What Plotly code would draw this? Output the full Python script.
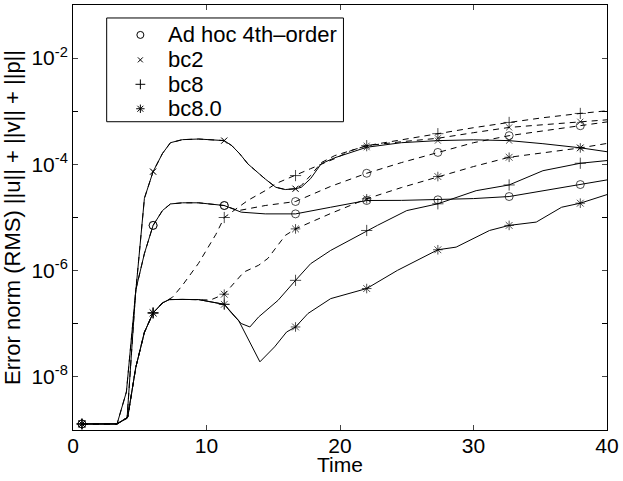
import plotly.graph_objects as go

# ---------------- data ----------------
MARKER_TIMES = [0.67, 6.0, 11.33, 16.67, 22.0, 27.33, 32.67, 38.0]

# Ad hoc 4th-order
T_ADHOC_SOLID = [0.67, 3.3, 4.05, 4.7, 5.35, 6.0, 6.7, 7.3, 8.2, 9.4, 11.33, 12.6, 14.4, 16.67,
                 19.3, 22.0, 24.6, 27.33, 30.0, 32.67, 35.2, 38.0, 40.0]
Y_ADHOC_SOLID = [1.3e-9, 1.3e-9, 1.66e-9, 4.3e-7, 2.1e-6, 7.1e-6, 1.35e-5, 1.8e-5, 1.89e-5, 1.89e-5,
                 1.68e-5, 1.26e-5, 1.17e-5, 1.17e-5, 1.56e-5, 2.09e-5, 2.1e-5, 2.15e-5, 2.27e-5,
                 2.48e-5, 3.2e-5, 4.17e-5, 5.1e-5]
T_ADHOC_DASH = [0.67, 3.3, 4.05, 4.7, 5.35, 6.0, 6.7, 7.3, 8.2, 9.4, 11.33, 12.4, 14.4, 16.67,
                19.3, 22.0, 24.6, 27.33, 30.0, 32.67, 35.2, 38.0, 40.0]
Y_ADHOC_DASH = [1.3e-9, 1.3e-9, 1.66e-9, 4.3e-7, 2.1e-6, 7.1e-6, 1.35e-5, 1.8e-5, 1.89e-5, 1.89e-5,
                1.68e-5, 1.35e-5, 1.68e-5, 2.0e-5, 3.85e-5, 6.8e-5, 1.08e-4, 1.68e-4, 2.56e-4,
                3.47e-4, 4.3e-4, 5.34e-4, 6.3e-4]

# bc2
T_BC2_SOLID = [0.67, 3.3, 4.0, 5.35, 6.0, 6.7, 7.3, 8.2, 9.4, 11.33, 11.9, 12.5, 13.1, 14.4, 15.2,
               15.9, 16.67, 17.1, 17.8, 18.6, 19.6, 20.8, 22.0, 24.6, 27.33, 30.0, 32.67, 35.2,
               38.0, 40.0]
Y_BC2_SOLID = [1.3e-9, 1.3e-9, 5.2e-9, 2.3e-5, 7.3e-5, 1.6e-4, 2.56e-4, 2.92e-4, 3.0e-4, 2.8e-4,
               2.25e-4, 1.57e-4, 1.02e-4, 5.3e-5, 3.7e-5, 3.36e-5, 3.48e-5, 3.7e-5, 5.4e-5, 1.03e-4,
               1.33e-4, 1.65e-4, 2.1e-4, 2.56e-4, 2.8e-4, 2.9e-4, 2.8e-4, 2.45e-4, 2.05e-4, 1.73e-4]
T_BC2_DASH = [0.67, 3.3, 4.0, 5.35, 6.0, 6.7, 7.3, 8.2, 9.4, 11.33, 11.9, 12.5, 13.1, 14.4, 15.2,
              15.9, 16.67, 17.1, 17.8, 18.6, 19.6, 20.8, 22.0, 24.6, 27.33, 30.0, 32.67, 35.2,
              38.0, 40.0]
Y_BC2_DASH = [1.3e-9, 1.3e-9, 5.2e-9, 2.3e-5, 7.3e-5, 1.6e-4, 2.56e-4, 2.92e-4, 3.0e-4, 2.8e-4,
              2.25e-4, 1.57e-4, 1.02e-4, 5.3e-5, 3.7e-5, 3.36e-5, 3.48e-5, 4.0e-5, 6.2e-5, 1.08e-4,
              1.46e-4, 1.81e-4, 2.25e-4, 2.67e-4, 3.1e-4, 3.95e-4, 4.96e-4, 5.57e-4, 6.35e-4, 6.9e-4]

# bc8
T_BC8_SOLID = [0.67, 3.3, 4.1, 4.7, 5.35, 6.0, 6.7, 7.2, 8.2, 9.4, 11.33, 11.9, 12.6, 13.25, 13.9,
               15.36, 16.67, 17.8, 19.3, 22.0, 22.8, 25.0, 27.33, 30.2, 32.67, 35.2, 38.0, 40.0]
Y_BC8_SOLID = [1.3e-9, 1.3e-9, 1.75e-9, 1.5e-8, 6.9e-8, 1.6e-7, 2.46e-7, 2.85e-7, 2.87e-7, 2.85e-7,
               2.32e-7, 1.56e-7, 1.01e-7, 8.7e-8, 1.34e-7, 2.76e-7, 6.56e-7, 1.35e-6, 2.4e-6,
               5.7e-6, 7.1e-6, 1.35e-5, 1.81e-5, 3.2e-5, 4.1e-5, 7.6e-5, 1.05e-4, 1.18e-4]
T_BC8_DASH = [0.67, 3.3, 4.1, 4.7, 5.35, 6.0, 6.7, 7.2, 7.45, 8.2, 9.4, 10.7, 11.33, 13.1, 14.4,
              15.2, 16.67, 17.8, 19.6, 20.8, 22.0, 24.6, 27.33, 30.0, 32.67, 35.2, 38.0, 40.0]
Y_BC8_DASH = [1.3e-9, 1.3e-9, 1.75e-9, 1.5e-8, 6.9e-8, 1.6e-7, 2.46e-7, 2.85e-7, 3.15e-7, 5.3e-7,
              1.37e-6, 4.8e-6, 1.0e-5, 2.1e-5, 3.2e-5, 4.35e-5, 6.15e-5, 8.3e-5, 1.28e-4, 1.81e-4,
              2.25e-4, 2.92e-4, 3.78e-4, 4.9e-4, 6.16e-4, 7.55e-4, 9.1e-4, 1.02e-3]

# bc8.0
T_BC80_SOLID = [0.67, 3.3, 4.1, 4.7, 5.35, 6.0, 6.7, 7.2, 8.2, 9.4, 11.33, 12.4, 14.0, 15.1, 16.0,
                16.67, 17.6, 19.3, 22.0, 24.3, 27.33, 28.7, 31.2, 32.67, 34.7, 36.6, 38.0, 40.0]
Y_BC80_SOLID = [1.3e-9, 1.3e-9, 1.75e-9, 1.5e-8, 6.9e-8, 1.6e-7, 2.46e-7, 2.85e-7, 2.87e-7, 2.85e-7,
                2.32e-7, 1.16e-7, 1.92e-8, 3.67e-8, 7.0e-8, 8.7e-8, 1.56e-7, 2.97e-7, 4.6e-7,
                1.01e-6, 2.47e-6, 2.77e-6, 5.7e-6, 7.1e-6, 8.2e-6, 1.56e-5, 1.86e-5, 2.7e-5]
T_BC80_DASH = [0.67, 3.3, 4.1, 4.7, 5.35, 6.0, 6.7, 7.2, 8.2, 9.4, 10.3, 11.33, 12.0, 12.8, 13.9,
               14.6, 15.9, 16.67, 19.3, 22.0, 24.6, 27.33, 30.0, 32.67, 35.2, 38.0, 40.0]
Y_BC80_DASH = [1.3e-9, 1.3e-9, 1.75e-9, 1.5e-8, 6.9e-8, 1.6e-7, 2.46e-7, 2.85e-7, 2.87e-7, 2.85e-7,
               2.8e-7, 3.6e-7, 5.7e-7, 9.4e-7, 1.26e-6, 1.7e-6, 4.6e-6, 6.1e-6, 1.19e-5, 2.25e-5,
               3.66e-5, 5.9e-5, 9.1e-5, 1.36e-4, 1.66e-4, 2.04e-4, 2.48e-4]

SERIES_NAMES = ["Ad hoc 4th\u2013order", "bc2", "bc8", "bc8.0"]

X_TICKS = [0, 10, 20, 30, 40]
Y_TICK_VALUES = [1e-8, 1e-6, 1e-4, 1e-2]
Y_TICK_TEXT = ["10<sup>-8</sup>", "10<sup>-6</sup>", "10<sup>-4</sup>", "10<sup>-2</sup>"]
Y_MINOR_TICK_VALUES = [1e-9, 1e-7, 1e-5, 1e-3, 1e-1]

# ---------------- styling / layout ----------------
W, H = 623, 481
ML, MR, MT, MB = 73, 11, 4, 51
PW, PH = W - ML - MR, H - MT - MB
FONT = "Liberation Sans, Arial, Helvetica, sans-serif"
SYMBOLS = {"Ad hoc 4th\u2013order": ("circle-open", 8),
           "bc2": ("x-thin-open", 6),
           "bc8": ("cross-thin-open", 8),
           "bc8.0": ("asterisk-open", 8)}

# legend placement in pixels (from top-left of the figure)
LEG_BOX = (107, 17, 346, 121)
LEG_SYMBOL_X = 141
LEG_TEXT_X = 167
LEG_ROWS_Y = [34, 59, 83.5, 108]


def px_x(p):
    return (p - ML) / PW


def px_y(p):
    return (H - MB - p) / PH


curves = [
    ("Ad hoc 4th\u2013order", T_ADHOC_DASH, Y_ADHOC_DASH, "dash"),
    ("bc2", T_BC2_DASH, Y_BC2_DASH, "dash"),
    ("bc8", T_BC8_DASH, Y_BC8_DASH, "dash"),
    ("bc8.0", T_BC80_DASH, Y_BC80_DASH, "dash"),
    ("Ad hoc 4th\u2013order", T_ADHOC_SOLID, Y_ADHOC_SOLID, "solid"),
    ("bc2", T_BC2_SOLID, Y_BC2_SOLID, "solid"),
    ("bc8", T_BC8_SOLID, Y_BC8_SOLID, "solid"),
    ("bc8.0", T_BC80_SOLID, Y_BC80_SOLID, "solid"),
]

fig = go.Figure()
for name, t, y, dash in curves:
    sym, sz = SYMBOLS[name]
    sizes = [sz if any(abs(ti - m) < 1e-6 for m in MARKER_TIMES) else 0 for ti in t]
    fig.add_trace(go.Scatter(
        x=t, y=y, mode="lines+markers", showlegend=False, name=name,
        line=dict(color="black", width=1, dash="6px,5px" if dash == "dash" else "solid"),
        marker=dict(symbol=sym, size=sizes, color="black", line=dict(color="black", width=1)),
        hoverinfo="skip"))

# hand-drawn legend (box, symbols, labels)
fig.add_shape(type="rect", xref="paper", yref="paper", layer="below",
              x0=px_x(LEG_BOX[0]), x1=px_x(LEG_BOX[2]), y0=px_y(LEG_BOX[3]), y1=px_y(LEG_BOX[1]),
              line=dict(color="black", width=1), fillcolor="white")
for name, ry in zip(SERIES_NAMES, LEG_ROWS_Y):
    sym, sz = SYMBOLS[name]
    fig.add_trace(go.Scatter(
        x=[px_x(LEG_SYMBOL_X)], y=[px_y(ry)], xaxis="x2", yaxis="y2", mode="markers",
        showlegend=False, hoverinfo="skip",
        marker=dict(symbol=sym, size=sz - 1, color="black", line=dict(color="black", width=1))))
    fig.add_annotation(x=px_x(LEG_TEXT_X), y=px_y(ry), xref="paper", yref="paper",
                       xanchor="left", yanchor="middle", text=name, showarrow=False,
                       font=dict(size=22))

fig.add_annotation(x=0.5, y=px_y(465), xref="paper", yref="paper", xanchor="center",
                   yanchor="middle", text="Time", showarrow=False, font=dict(size=21))

fig.update_layout(
    width=W, height=H,
    margin=dict(l=ML, r=MR, t=MT, b=MB),
    paper_bgcolor="white", plot_bgcolor="white",
    font=dict(family=FONT, size=21, color="black"),
    showlegend=False,
    xaxis=dict(range=[0, 40], tickvals=X_TICKS, ticks="inside", ticklen=5,
               showline=True, linecolor="black", linewidth=1, mirror="ticks",
               showgrid=False, zeroline=False, ticklabeloverflow="allow",
               ticklabelstandoff=-3),
    yaxis=dict(type="log", range=[-9, -1], tickvals=Y_TICK_VALUES, ticktext=Y_TICK_TEXT,
               ticks="inside", ticklen=5, showline=True, linecolor="black", linewidth=1,
               mirror="ticks", showgrid=False, zeroline=False,
               minor=dict(tickvals=Y_MINOR_TICK_VALUES, ticks="inside", ticklen=5,
                          tickcolor="black", showgrid=False),
               title=dict(text="Error norm (RMS) ||u|| + ||v|| + ||p||", standoff=4,
                          font=dict(size=22))),
    xaxis2=dict(range=[0, 1], overlaying="x", visible=False, fixedrange=True),
    yaxis2=dict(range=[0, 1], overlaying="y", visible=False, fixedrange=True),
)

fig.write_html("out.html", config={"displayModeBar": False},
               post_script="document.body.style.margin='0';document.body.style.padding='0';")
